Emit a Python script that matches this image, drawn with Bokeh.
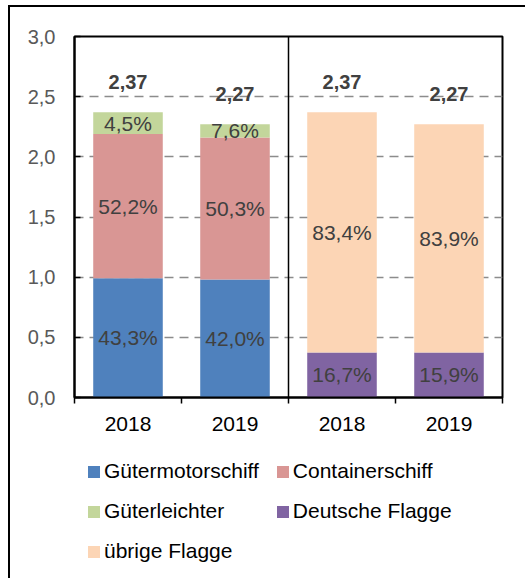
from bokeh.plotting import figure
from bokeh.layouts import column
from bokeh.models import FixedTicker, Span, Legend, LegendItem
from bokeh.core.properties import value
from bokeh.embed import file_html
from bokeh.resources import INLINE

# ---- data ----
years = ["2018", "2019"]
totals = [2.37, 2.27]
# left group: ship types (absolute values, Mio.)
guetermotorschiff = [0.99, 0.98]
containerschiff = [1.20, 1.18]
gueterleichter = [0.18, 0.11]
pct_guetermotorschiff = [43.3, 42.0]
pct_containerschiff = [52.2, 50.3]
pct_gueterleichter = [4.5, 7.6]
# right group: flag
deutsche_flagge = [0.375, 0.375]
uebrige_flagge = [1.995, 1.895]
pct_deutsche = [16.7, 15.9]
pct_uebrige = [83.4, 83.9]
y_ticks = [0.0, 0.5, 1.0, 1.5, 2.0, 2.5, 3.0]
series_names = ["Gütermotorschiff", "Containerschiff", "Güterleichter",
                "Deutsche Flagge", "übrige Flagge"]

FONT = "Liberation Sans"
C_BLUE = "#4F81BD"
C_RED = "#D99694"
C_GREEN = "#C3D69B"
C_PURPLE = "#8064A2"
C_PEACH = "#FCD5B5"
colors = [C_BLUE, C_RED, C_GREEN, C_PURPLE, C_PEACH]

def fmt(v, d=1):
    return f"{v:.{d}f}".replace(".", ",")

p = figure(width=515, height=440, x_range=(0, 4), y_range=(0, 3),
           output_backend="svg", toolbar_location=None,
           min_border_left=64, min_border_right=23, min_border_top=29,
           min_border_bottom=50)
p.background_fill_color = "white"
p.border_fill_color = "white"
p.outline_line_color = "black"
p.outline_line_width = 2

xl = [i + 0.5 for i in range(len(years))]
xr = [i + 2.5 for i in range(len(years))]
W = 0.65

# left group stacks
b1 = [0.0] * len(years)
t1 = [b + v for b, v in zip(b1, guetermotorschiff)]
t2 = [b + v for b, v in zip(t1, containerschiff)]
t3 = [b + v for b, v in zip(t2, gueterleichter)]
p.vbar(x=xl, bottom=b1, top=t1, width=W, fill_color=C_BLUE, line_color=None)
p.vbar(x=xl, bottom=t1, top=t2, width=W, fill_color=C_RED, line_color=None)
p.vbar(x=xl, bottom=t2, top=t3, width=W, fill_color=C_GREEN, line_color=None)

# right group stacks
u1 = list(deutsche_flagge)
u2 = [b + v for b, v in zip(u1, uebrige_flagge)]
p.vbar(x=xr, bottom=[0.0] * len(years), top=u1, width=W, fill_color=C_PURPLE, line_color=None)
p.vbar(x=xr, bottom=u1, top=u2, width=W, fill_color=C_PEACH, line_color=None)

# percentage labels
lx, ly, lt = [], [], []
for xs, bots, tops, pcts in [
    (xl, b1, t1, pct_guetermotorschiff),
    (xl, t1, t2, pct_containerschiff),
    (xl, t2, t3, pct_gueterleichter),
    (xr, [0.0, 0.0], u1, pct_deutsche),
    (xr, u1, u2, pct_uebrige),
]:
    for x, b, t, pc in zip(xs, bots, tops, pcts):
        lx.append(x)
        ly.append((b + t) / 2)
        lt.append(fmt(pc) + "%")
p.text(x=lx, y=ly, text=lt, text_align="center", text_baseline="middle",
       text_font=value(FONT), text_font_size="21px", text_color="#404040")

# totals
tx = xl + xr
ty = list(t3) + list(u2)
tt = [fmt(v, 2) for v in totals] * 2
p.text(x=tx, y=ty, text=tt, text_align="center", text_baseline="middle",
       y_offset=-30, text_font=value(FONT), text_font_size="20px",
       text_font_style="bold", text_color="#404040")

# divider
p.add_layout(Span(location=2, dimension="height", line_color="black", line_width=1.5))

# axes
p.xaxis.ticker = FixedTicker(ticks=xl + xr, minor_ticks=[0, 1, 2, 3, 4])
p.xaxis.major_label_overrides = {x: y for x, y in zip(xl + xr, years + years)}
p.xaxis.major_tick_line_color = None
p.xaxis.major_tick_in = 0
p.xaxis.major_tick_out = 0
p.xaxis.minor_tick_line_color = "black"
p.xaxis.minor_tick_line_width = 1.5
p.xaxis.minor_tick_in = 0
p.xaxis.minor_tick_out = 6
p.xaxis.axis_line_color = "black"
p.xaxis.axis_line_width = 2
p.xaxis.major_label_text_font = FONT
p.xaxis.major_label_text_font_size = "21px"
p.xaxis.major_label_text_color = "black"
p.xaxis.major_label_standoff = 13

p.yaxis.ticker = FixedTicker(ticks=y_ticks)
p.yaxis.major_label_overrides = {v: fmt(v) for v in y_ticks}
p.yaxis.major_tick_in = 6
p.yaxis.major_tick_out = 0
p.yaxis.major_tick_line_color = "black"
p.yaxis.major_tick_line_width = 1.5
p.yaxis.minor_tick_line_color = None
p.yaxis.axis_line_color = "black"
p.yaxis.axis_line_width = 2
p.yaxis.major_label_text_font = FONT
p.yaxis.major_label_text_font_size = "20px"
p.yaxis.major_label_text_color = "#595959"
p.yaxis.major_label_standoff = 19

p.xgrid.grid_line_color = None
p.ygrid.ticker = FixedTicker(ticks=y_ticks)
p.ygrid.grid_line_color = "#8c8c8c"
p.ygrid.grid_line_width = 1.5
p.ygrid.grid_line_dash = "9 6"

# legend in a second, axis-less figure (frames aligned with the main plot)
p2 = figure(width=515, height=131, x_range=(0, 1), y_range=(0, 1),
            output_backend="svg", toolbar_location=None,
            min_border_left=64, min_border_right=23, min_border_top=0,
            min_border_bottom=0)
p2.axis.visible = False
p2.grid.grid_line_color = None
p2.outline_line_color = None
items = []
for name, col in zip(series_names, colors):
    # zero-height proxy bar: only its legend swatch is seen
    r = p2.vbar(x=[0], bottom=[0], top=[0], width=0, fill_color=col, line_color=None)
    items.append(LegendItem(label=name, renderers=[r]))
legend = Legend(items=items, orientation="horizontal", ncols=2,
                location="top_left", padding=0, margin=12, spacing=16,
                glyph_width=15, glyph_height=15, label_standoff=3,
                label_text_font=FONT, label_text_font_size="21px",
                label_text_color="black", border_line_color=None,
                background_fill_alpha=0)
p2.add_layout(legend, "center")

layout = column(p, p2, spacing=0,
                styles={"border-left": "2px solid black", "border-top": "2px solid black",
                        "margin-left": "8px", "margin-top": "5px"})

open("out.html", "w").write(file_html(layout, INLINE))
